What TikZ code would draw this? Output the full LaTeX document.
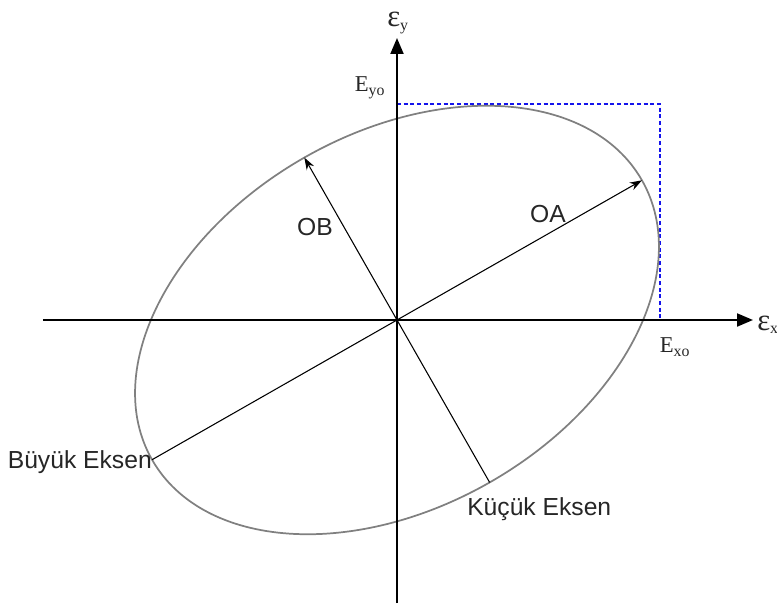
\documentclass[tikz,border=0pt]{standalone}
\usepackage{fontspec}
\setmainfont{Liberation Serif}
\setsansfont{Liberation Sans}
\usetikzlibrary{arrows.meta,calc}
\definecolor{rim}{RGB}{128,128,128}
\definecolor{guide}{RGB}{20,20,235}
\newcommand{\bigeps}{{\fontsize{23}{25}\selectfont ε}}
\tikzset{
  >={Stealth[length=3.2mm,width=2.2mm]},
  axis/.style={->,line width=1.6pt,>={Triangle[length=4.2mm,width=3.4mm]}},
  radius line/.style={line width=0.8pt},
  ring/.style={draw=rim,line width=1.3pt},
  guide line/.style={draw=guide,densely dashed,line width=0.8pt},
  tag/.style={font=\sffamily\fontsize{18.5}{20}\selectfont,text=black!85,inner sep=0pt},
  sym/.style={font=\fontsize{17}{19}\selectfont,text=black!85,inner sep=0pt},
}
\begin{document}
\begin{tikzpicture}[x=0.75pt,y=0.75pt]
  \useasboundingbox (-397,-283) rectangle (380,320);
  % ellipse frame
  \coordinate (O) at (0,0);
  \coordinate (xl) at (-354,0);
  \coordinate (xr) at (356,0);
  \coordinate (yb) at (0,-283);
  \coordinate (yt) at (0,282);
  \coordinate (A) at (29.7:282);
  \coordinate (Abk) at (209.7:282);
  \coordinate (B) at (119.7:187);
  \coordinate (Bk) at (-60.3:187);
  \coordinate (Ey) at (0,216);
  \coordinate (C) at (263,216);
  \coordinate (Ex) at (263,0);
  \draw[guide line] (Ey) -- (C) -- (Ex);
  \draw[ring,rotate=29.7] (O) ellipse [x radius=282,y radius=187];
  \draw[axis] (xl) -- (xr);
  \draw[axis] (yb) -- (yt);
  \draw[radius line,->] (Abk) -- (A);
  \draw[radius line,->] (O) -- (B);
  \draw[radius line] (O) -- (Bk);
  % labels
  \node[sym,anchor=base west] (epsx) at (360,-10) {\bigeps\textsubscript{x}};
  \node[sym,anchor=base west] (epsy) at (-10,293) {\bigeps\textsubscript{y}};
  \node[sym] (exo) at (278,-27) {E\textsubscript{xo}};
  \node[sym] (eyo) at (-27,232) {E\textsubscript{yo}};
  \node[tag] (ob) at (-82,93) {OB};
  \node[tag] (oa) at (151,106) {OA};
  \node[tag,anchor=east] (big) at ($(Abk)+(0,-2)$) {Büyük Eksen};
  \node[tag,anchor=west] (small) at (70,-189) {Küçük Eksen};
\end{tikzpicture}
\end{document}
